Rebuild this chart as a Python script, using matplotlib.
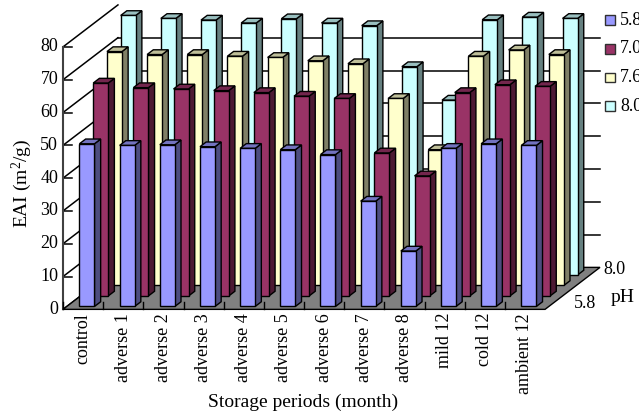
import matplotlib
matplotlib.use('Agg')
import matplotlib.pyplot as plt
from matplotlib.colors import to_rgb
from matplotlib.patches import Polygon, Rectangle

plt.rcParams['font.family'] = ['Liberation Serif', 'DejaVu Serif']
plt.rcParams['mathtext.fontset'] = 'custom'
plt.rcParams['mathtext.rm'] = 'Liberation Serif'
plt.rcParams['mathtext.default'] = 'regular'

categories = ['control', 'adverse 1', 'adverse 2', 'adverse 3', 'adverse 4', 'adverse 5',
              'adverse 6', 'adverse 7', 'adverse 8', 'mild 12', 'cold 12', 'ambient 12']
ph_labels = ['5.8', '7.0', '7.6', '8.0']
ph_58 = [49.6, 49.1, 49.3, 48.7, 48.2, 47.8, 46.3, 32.1, 16.9, 48.2, 49.6, 49.1]
ph_70 = [64.9, 63.5, 63.1, 62.6, 62.0, 60.9, 60.2, 43.6, 36.6, 62.0, 64.4, 63.9]
ph_76 = [71.3, 70.4, 70.4, 69.9, 69.5, 68.5, 67.6, 57.0, 41.4, 69.9, 71.8, 70.4]
ph_80 = [79.1, 78.2, 77.7, 76.8, 78.1, 76.8, 76.0, 63.5, 53.3, 77.8, 78.6, 78.2]
y_ticks = [0, 10, 20, 30, 40, 50, 60, 70, 80]

series = [ph_58, ph_70, ph_76, ph_80]
colors = ['#9999FF', '#993366', '#FFFFCC', '#CCFFFF']

# oblique projection: one depth slot moves a point right and up
DX = 0.342
DY = 3.2
N_DEPTH = 4
BAR_W = 0.3735
BAR_D = 0.45
BAR_X = 0.316
BAR_Z = 0.275


def proj(x, y, z):
    return (x + z * DX, y + z * DY)


def shade(color, k):
    return tuple(c * k for c in to_rgb(color))


def draw_bar(ax, x, z, value, color):
    x1 = x + BAR_W
    z1 = z + BAR_D
    front = [proj(x, 0, z), proj(x1, 0, z), proj(x1, value, z), proj(x, value, z)]
    side = [proj(x1, 0, z), proj(x1, 0, z1), proj(x1, value, z1), proj(x1, value, z)]
    top = [proj(x, value, z), proj(x1, value, z), proj(x1, value, z1), proj(x, value, z1)]
    ax.add_patch(Polygon(side, fc=shade(color, 0.5), ec='black', lw=1, zorder=3))
    ax.add_patch(Polygon(top, fc=shade(color, 0.75), ec='black', lw=1, zorder=3))
    ax.add_patch(Polygon(front, fc=color, ec='black', lw=1, zorder=3))


fig = plt.figure(figsize=(6.39, 4.15), dpi=100)
ax = fig.add_axes([0, 0, 1, 1])
ax.set_xlim(-63 / 40.17, (639 - 63) / 40.17)
ax.set_ylim(-32.2, 94.3)
ax.axis('off')

n = len(categories)

# walls: grid on the back, diagonals on the left
for v in y_ticks:
    x0, y0 = proj(0, v, 0)
    x1, y1 = proj(0, v, N_DEPTH)
    ax.plot([x0, x1], [y0, y1], color='black', lw=1.1, zorder=1)
    ax.plot([x0, x0 + 0.22], [y0, y0], color='black', lw=1.1, zorder=1)
    if 0 < v < 80:
        x2, y2 = proj(n, v, N_DEPTH)
        ax.plot([x1, x2], [y1, y2], color='black', lw=1.1, zorder=1)
    ax.text(x0 - 0.12, y0, str(v), ha='right', va='center', fontsize=13)
ax.plot([0, 0], [0, 80], color='#404040', lw=1.5, zorder=1)

# floor
floor = [proj(0, 0, 0), proj(n, 0, 0), proj(n, 0, N_DEPTH), proj(0, 0, N_DEPTH)]
ax.add_patch(Polygon(floor, fc='#808080', ec='black', lw=1, zorder=2))
for i in range(n):
    ax.plot([i, i], [0, 2.2], color='black', lw=1, zorder=2)

# bars, back row first
for s in range(len(series) - 1, -1, -1):
    for i, value in enumerate(series[s]):
        draw_bar(ax, i + BAR_X, s + BAR_Z, value, colors[s])

# category labels
for i, name in enumerate(categories):
    ax.text(i + 0.5, -1.1, name, rotation=90, ha='center', va='top', fontsize=13)

ax.text(240 / 40.17, -28.3, 'Storage periods (month)', ha='center', va='center', fontsize=14)
ax.text(-41 / 40.17, 38.4, 'EAI (m$^{2}$/g)', rotation=90, ha='center', va='center', fontsize=14)

# depth axis labels
ax.text(13.0, 1.9, '5.8', ha='center', va='center', fontsize=13)
ax.text(13.72, 12.2, '8.0', ha='center', va='center', fontsize=13)
ax.text(13.94, 3.7, 'pH', ha='center', va='center', fontsize=14)

# legend runs off the right edge
for k, label in enumerate(ph_labels):
    y = 88.2 - k * 8.75
    ax.add_patch(Rectangle((13.5, y - 1.5), 0.25, 3.0, fc=colors[k], ec='#303030', lw=1))
    ax.text(13.87, y, label, ha='left', va='center', fontsize=13)

fig.savefig('out.png', dpi=100)
